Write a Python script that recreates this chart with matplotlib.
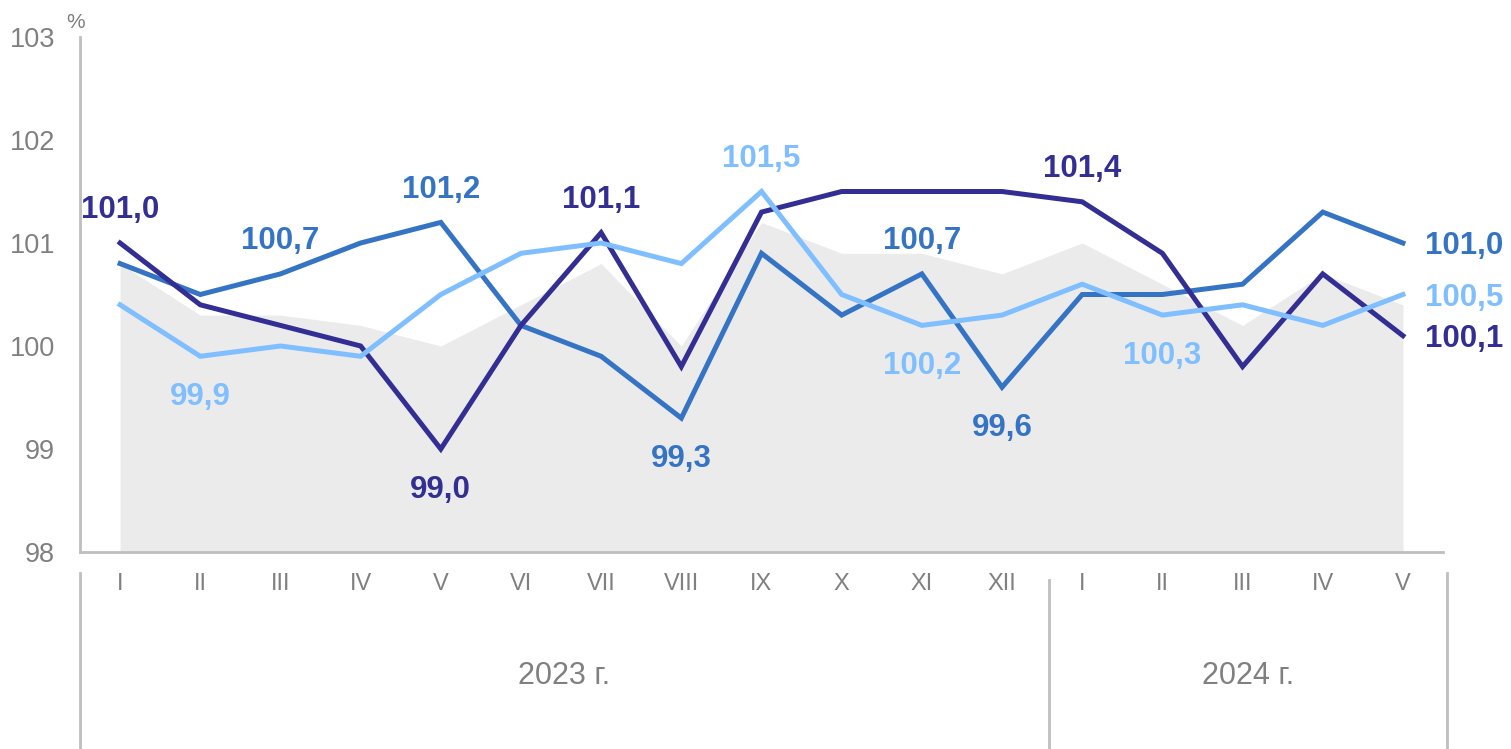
import matplotlib
matplotlib.use("Agg")
import matplotlib.pyplot as plt
import matplotlib.transforms as mtransforms

plt.rcParams['font.family'] = ['Liberation Sans', 'DejaVu Sans']

months = ["I", "II", "III", "IV", "V", "VI", "VII", "VIII", "IX", "X", "XI", "XII",
          "I", "II", "III", "IV", "V"]
years = ["2023 г.", "2024 г."]

gray_area = [100.8, 100.3, 100.3, 100.2, 100.0, 100.4, 100.8, 100.0, 101.2, 100.9,
             100.9, 100.7, 101.0, 100.6, 100.2, 100.7, 100.4]
navy = [101.0, 100.4, 100.2, 100.0, 99.0, 100.2, 101.1, 99.8, 101.3, 101.5,
        101.5, 101.5, 101.4, 100.9, 99.8, 100.7, 100.1]
medium = [100.8, 100.5, 100.7, 101.0, 101.2, 100.2, 99.9, 99.3, 100.9, 100.3,
          100.7, 99.6, 100.5, 100.5, 100.6, 101.3, 101.0]
light = [100.4, 99.9, 100.0, 99.9, 100.5, 100.9, 101.0, 100.8, 101.5, 100.5,
         100.2, 100.3, 100.6, 100.3, 100.4, 100.2, 100.5]

# labelled points: (index, above=True/below=False)
navy_labels = [(0, True), (4, False), (6, True), (12, True)]
medium_labels = [(2, True), (4, True), (7, False), (10, True), (11, False)]
light_labels = [(1, False), (8, True), (10, False), (13, False)]

C_NAVY = "#332E93"
C_MED = "#3574C4"
C_LIGHT = "#80BFFF"
C_GRAY = "#EBEBEB"
C_TXT = "#808080"
C_AX = "#BFBFBF"

fig = plt.figure(figsize=(15.11, 7.49), dpi=100)
ax = fig.add_axes([80 / 1511, 1 - 552 / 749, (1443 - 80) / 1511, (552 - 37) / 749])

x = list(range(len(months)))
ax.fill_between(x, 98, gray_area, color=C_GRAY, lw=0, zorder=1)
ax.plot(x, medium, color=C_MED, lw=3.6, zorder=3, solid_joinstyle='miter')
ax.plot(x, navy, color=C_NAVY, lw=3.6, zorder=4, solid_joinstyle='miter')
ax.plot(x, light, color=C_LIGHT, lw=3.6, zorder=5, solid_joinstyle='miter')

def fmt(v):
    return f"{v:.1f}".replace(".", ",")

for series, labels, col in [(navy, navy_labels, C_NAVY), (medium, medium_labels, C_MED),
                            (light, light_labels, C_LIGHT)]:
    for i, above in labels:
        ax.annotate(fmt(series[i]), (i, series[i]), xytext=(0, 23.5 if above else -29.5),
                    textcoords="offset points", ha="center", va="center",
                    fontsize=22.5, fontweight="bold", color=col, zorder=6)

last = len(months) - 1
for series, col in [(medium, C_MED), (light, C_LIGHT), (navy, C_NAVY)]:
    ax.annotate(fmt(series[last]), (last, series[last]), xytext=(16, -2.5),
                textcoords="offset points", ha="left", va="center",
                fontsize=22.5, fontweight="bold", color=col, zorder=6,
                annotation_clip=False)

ax.set_xlim(-0.5, 16.5)
ax.set_ylim(98, 103)
ax.set_yticks([98, 99, 100, 101, 102, 103])
ax.set_yticklabels(["98", "99", "100", "101", "102", "103"])
ax.set_xticks(x)
ax.set_xticklabels(months)
ax.tick_params(axis='both', length=0, colors=C_TXT)
ax.tick_params(axis='y', pad=18, labelsize=19.5)
ax.tick_params(axis='x', pad=15, labelsize=17)

for s in ["top", "right"]:
    ax.spines[s].set_visible(False)
for s in ["left", "bottom"]:
    ax.spines[s].set_color(C_AX)
    ax.spines[s].set_linewidth(2)

ax.text(-0.56, 103.05, "%", ha="center", va="bottom", fontsize=15, color=C_TXT)

trans = mtransforms.blended_transform_factory(ax.transData, ax.transAxes)
for xs in [-0.5, 11.58, 16.55]:
    ax.plot([xs, xs], [-0.04 if xs != 11.58 else -0.055, -0.39], transform=trans,
            color=C_AX, lw=2, clip_on=False, zorder=0)

ax.text((-0.5 + 11.58) / 2, -0.24, years[0], transform=trans, ha="center", va="center",
        fontsize=22, color=C_TXT)
ax.text((11.58 + 16.55) / 2, -0.24, years[1], transform=trans, ha="center", va="center",
        fontsize=22, color=C_TXT)

fig.savefig("out.png", dpi=100, facecolor="white")
